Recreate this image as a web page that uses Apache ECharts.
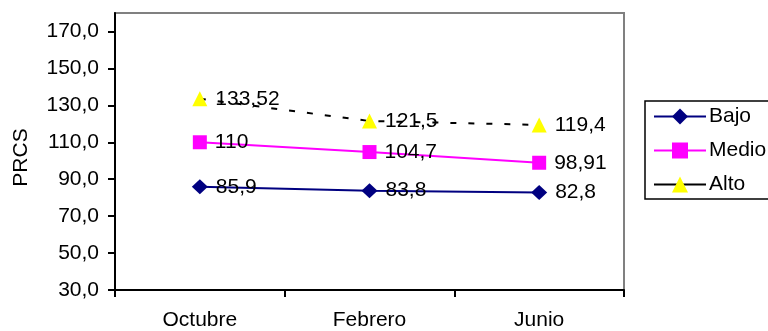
<!DOCTYPE html>
<html>
<head>
<meta charset="utf-8">
<script src="https://cdn.jsdelivr.net/npm/echarts@6/dist/echarts.min.js"></script>
<style>
  html, body { margin: 0; padding: 0; background: #fff; }
  #chart { width: 768px; height: 331px; }
</style>
</head>
<body>
<div id="chart"></div>
<script>
// Survey periods on the category axis
const categories = ['Octubre', 'Febrero', 'Junio'];

// PRCS values per group
const bajo = [85.9, 83.8, 82.8];
const medio = [110, 104.7, 98.91];
const alto = [133.52, 121.5, 119.4];

// Labelled ticks on the value axis
const yTicks = [30, 50, 70, 90, 110, 130, 150, 170];

const FONT = '"Liberation Sans", Arial, sans-serif';
const FS = 21;

const fmtComma = v => String(v).replace('.', ',');

const labelCfg = {
  show: true,
  position: 'right',
  distance: 8,
  color: '#000',
  fontFamily: FONT,
  fontSize: FS,
  formatter: p => fmtComma(p.value)
};

const chart = echarts.init(document.getElementById('chart'), null, { renderer: 'canvas' });

chart.setOption({
  animation: false,
  backgroundColor: '#fff',
  textStyle: { fontFamily: FONT },
  grid: {
    left: 115, right: 144, top: 13, bottom: 41,
    show: true,
    borderColor: '#808080',
    borderWidth: 2,
    backgroundColor: 'transparent'
  },
  legend: {
    orient: 'vertical',
    left: 645,
    top: 101,
    padding: [5, 20, 4, 8],
    borderColor: '#000',
    borderWidth: 1.5,
    itemWidth: 52,
    itemHeight: 20,
    itemGap: 13,
    lineStyle: { width: 2 },
    textStyle: { fontFamily: FONT, fontSize: FS, color: '#000', lineHeight: 20, padding: [0, 0, 0, -2] },
    data: [
      { name: 'Bajo' },
      { name: 'Medio' },
      { name: 'Alto', lineStyle: { type: 'solid', color: '#000', width: 2 } }
    ]
  },
  xAxis: {
    type: 'category',
    data: categories,
    boundaryGap: true,
    axisLine: { lineStyle: { color: '#000', width: 2 } },
    axisTick: { show: true, length: 7, lineStyle: { color: '#000', width: 2 } },
    axisLabel: { color: '#000', fontFamily: FONT, fontSize: FS, margin: 20 },
    splitLine: { show: false }
  },
  yAxis: {
    type: 'value',
    min: 30,
    max: 180,
    interval: 20,
    name: 'PRCS',
    nameLocation: 'middle',
    nameGap: 83,
    nameRotate: 90,
    nameTextStyle: { color: '#000', fontFamily: FONT, fontSize: FS, padding: [0, 12, 0, 0] },
    axisLine: { show: true, lineStyle: { color: '#000', width: 2 } },
    axisTick: { show: true, length: 7, customValues: yTicks, lineStyle: { color: '#000', width: 2 } },
    axisLabel: {
      color: '#000', fontFamily: FONT, fontSize: FS, margin: 16,
      customValues: yTicks,
      formatter: v => v.toFixed(1).replace('.', ',')
    },
    splitLine: { show: false }
  },
  series: [
    {
      name: 'Bajo',
      type: 'line',
      data: bajo,
      symbol: 'diamond',
      symbolSize: [16, 15],
      itemStyle: { color: '#000080' },
      lineStyle: { color: '#000080', width: 2 },
      label: labelCfg,
      z: 3
    },
    {
      name: 'Medio',
      type: 'line',
      data: medio,
      symbol: 'rect',
      symbolSize: 14,
      itemStyle: { color: '#FF00FF' },
      lineStyle: { color: '#FF00FF', width: 2 },
      label: labelCfg,
      z: 3
    },
    {
      name: 'Alto',
      type: 'line',
      data: alto,
      symbol: 'triangle',
      symbolSize: [15, 15],
      itemStyle: { color: '#FFFF00' },
      lineStyle: { color: '#000', width: 2, type: [6, 12] },
      label: labelCfg,
      z: 3
    }
  ]
});
</script>
</body>
</html>
